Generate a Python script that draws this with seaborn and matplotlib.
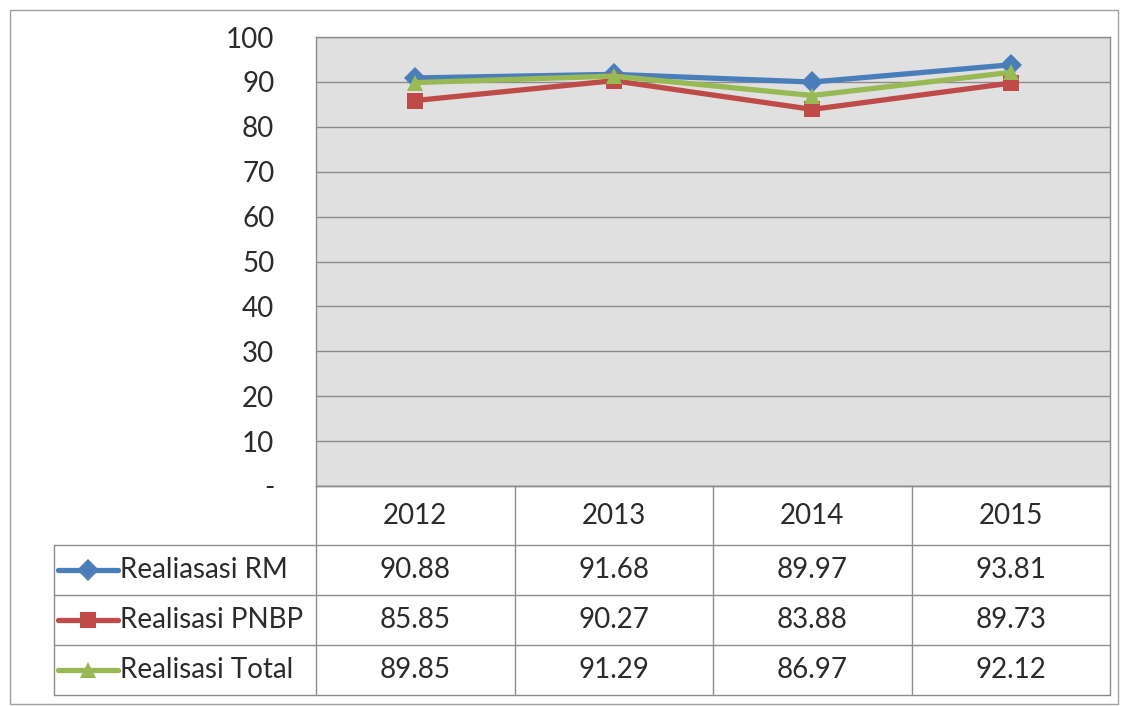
import numpy as np
import pandas as pd
import matplotlib
matplotlib.use("Agg")
import matplotlib.pyplot as plt
import seaborn as sns
from matplotlib.lines import Line2D
from matplotlib.patches import Rectangle

years = ["2012", "2013", "2014", "2015"]
series_names = ["Realiasasi RM", "Realisasi PNBP", "Realisasi Total"]
realisasi_rm = [90.88, 91.68, 89.97, 93.81]
realisasi_pnbp = [85.85, 90.27, 83.88, 89.73]
realisasi_total = [89.85, 91.29, 86.97, 92.12]
y_ticks = [0, 10, 20, 30, 40, 50, 60, 70, 80, 90, 100]
y_tick_labels = ["-", "10", "20", "30", "40", "50", "60", "70", "80", "90", "100"]

colors = ["#4a7ebb", "#be4b48", "#98b954"]
markers = ["D", "s", "^"]
txt_color = "#2b2b2b"
fs = 20

sns.set_theme(style="white")
plt.rcParams["font.family"] = ["Lato", "DejaVu Sans"]

values = [realisasi_rm, realisasi_pnbp, realisasi_total]
df = pd.DataFrame({
    "pos": np.tile(np.arange(len(years)), len(series_names)),
    "value": np.concatenate(values),
    "series": np.repeat(series_names, len(years)),
})

W, H = 1126, 706
fig = plt.figure(figsize=(W / 100, H / 100), dpi=100)

# outer chart border
fig.patches.append(Rectangle((10 / W, 2 / H), 1108 / W, 694 / H, transform=fig.transFigure,
                             fill=False, edgecolor="#a0a0a0", linewidth=1))

x0, x1, ytop, ybot = 316, 1110, 37, 486
ax = fig.add_axes([x0 / W, 1 - ybot / H, (x1 - x0) / W, (ybot - ytop) / H])
ax.set_facecolor("#e0e0e0")

sns.lineplot(data=df, x="pos", y="value", hue="series", style="series",
             hue_order=series_names, style_order=series_names,
             palette=colors, markers=markers, dashes=False,
             linewidth=3.8, markersize=11, markeredgewidth=0, ax=ax, legend=False)

ax.set_xlim(-0.5, len(years) - 0.5)
ax.set_ylim(0, 100)
ax.set_yticks(y_ticks)
ax.set_yticklabels(y_tick_labels, fontsize=fs, color=txt_color)
ax.set_xticks([])
ax.set_xlabel("")
ax.set_ylabel("")
ax.tick_params(axis="y", length=0, pad=30)
ax.yaxis.grid(True, color="#8c8c8c", linewidth=1)
ax.set_axisbelow(True)
for s in ax.spines.values():
    s.set_color("#8c8c8c")
    s.set_linewidth(1)

# data table below the plot
tx0 = 54
row_edges = [486, 545, 595, 645, 695]
tab = fig.add_axes([0, 0, 1, 1], facecolor="none")
tab.set_xlim(0, W)
tab.set_ylim(H, 0)
tab.axis("off")

col_w = (x1 - x0) / len(years)
col_edges = [x0 + i * col_w for i in range(len(years) + 1)]
lc = "#8c8c8c"
# vertical lines
for cx in col_edges:
    tab.plot([cx, cx], [row_edges[0], row_edges[-1]], color=lc, lw=1)
tab.plot([tx0, tx0], [row_edges[1], row_edges[-1]], color=lc, lw=1)
# horizontal lines
for i, ry in enumerate(row_edges):
    left = x0 if i == 0 else tx0
    tab.plot([left, x1], [ry, ry], color=lc, lw=1)

for j, yr in enumerate(years):
    cx = x0 + (j + 0.5) * col_w
    tab.text(cx, (row_edges[0] + row_edges[1]) / 2, yr, ha="center", va="center",
             fontsize=fs, color=txt_color)

for i, (name, vals) in enumerate(zip(series_names, values)):
    cy = (row_edges[i + 1] + row_edges[i + 2]) / 2
    tab.add_line(Line2D([58, 118], [cy, cy], color=colors[i], lw=3.8))
    tab.add_line(Line2D([88], [cy], color=colors[i], marker=markers[i],
                        markersize=11, markeredgewidth=0))
    tab.text(120, cy, name, ha="left", va="center", fontsize=fs, color=txt_color)
    for j, v in enumerate(vals):
        cx = x0 + (j + 0.5) * col_w
        tab.text(cx, cy, f"{v:.2f}", ha="center", va="center",
                 fontsize=fs, color=txt_color)

fig.savefig("out.png", dpi=100, facecolor="white")
